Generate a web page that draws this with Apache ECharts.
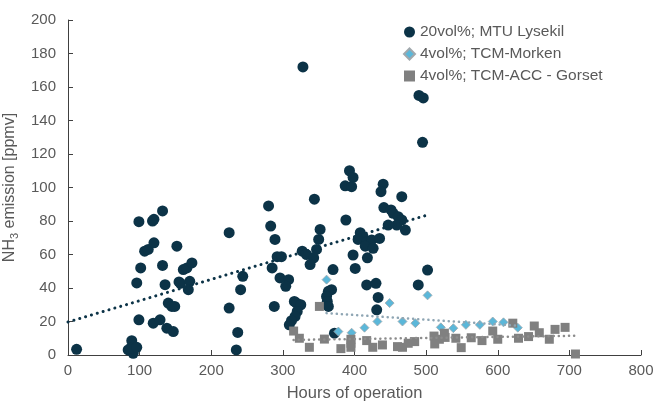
<!DOCTYPE html>
<html>
<head>
<meta charset="utf-8">
<script src="https://cdn.jsdelivr.net/npm/echarts@6/dist/echarts.min.js"></script>
<style>
html,body{margin:0;padding:0;background:#fff;}
#chart{width:653px;height:401px;}
</style>
</head>
<body>
<div id="chart"></div>
<script>
// NH3 emission vs. hours of operation
var seriesNames = ['20vol%; MTU Lysekil', '4vol%; TCM-Morken', '4vol%; TCM-ACC - Gorset'];

// [hours, ppmv]
var mtuPoints = [
	[12,3.4],[84,3],[89,8.5],[91,1],[87,4],[96,4.6],[99,79.6],[118,80],[120,81],[132,86],
	[107,62],[112,63],[120,67],[152,65],[101.5,52],[96,43],[132,53.5],[135.5,42],[155,43.6],[157,42.8],
	[161,51],[166,52],[173,55],[170,44],[168,39],[140,31],[145,29],[149,29],[99,21],[119,19],
	[128.5,21],[138,16],[147,14],
	[225,73],[244,47],[241,39],[225,28],[237,13.5],[235,3],[280,89],[283,77],[289,69],[292,58.7],
	[298,58.7],[285,52],[296,46],[308,45],[304,41],[288,29],[328,172],[344,93],[352,75],[350,69],
	[347,63],[327,62],[333,60],[343,58],[338,54],[370,51],[316,32],[319,31],[325,30],[320,26],
	[317,23],[312,20.5],[309,18],[368,39],[363.5,38],[361,35],[362,32],[363.5,29],[372,13],
	[393,110],[398,106],[387,101],[396,100.5],[440,102],[437,97.5],[466,94.5],[388,80.6],[441,88],[451,86.6],
	[454,84.6],[461,82.6],[466,80.6],[459,77.6],[447,77.6],[471,74.6],[408,73],[412,70.6],[405,69],[417,67.6],
	[424,68.7],[435,69.6],[415,65],[426,63.7],[398,59.7],[418,58],[401,51.7],[417,41.8],[430,42.8],[433,34.4],
	[431,27],[489,41.8],[502,50.7],[490,155],[496,153.5],[495,127]
];
var morkenPoints = [
	[361,45],[377.5,14],[396,13.3],[414,16.3],[432,20],[449,31],[467,20],[485,19],[502,35.6],[520.5,16.5],
	[538,16],[555.5,18],[575,18],[593,20],[608,19.5],[628,16.3]
];
var gorsetPoints = [
	[315,14.3],[323,10],[337,4.6],[351,29],[358,9.5],[381,3.8],[395,9.4],[395,7],[395,4.6],[417,8.6],
	[425.5,4.6],[439,6],[460,5],[467,4.6],[475,7],[484,8],[511,11.3],[512,6.6],[518.5,9.4],[525.5,13],
	[526.5,10.5],[541.5,10],[549,4.4],[563,10.3],[578,8.6],[593,14.3],[600,9.4],[621,19],[629,10],[643,11],
	[651,17.3],[658,13.3],[672,9.4],[680,15.3],[694,16.5],[708.5,0.6]
];
// trend line end points
var mtuTrend = [[0,19.7],[502,83.6]];
var morkenTrend = [[361,25],[628,17.5]];
var gorsetTrend = [[315,9],[708,11.5]];

var xTicks = {min:0, max:800, interval:100};
var yTicks = {min:0, max:200, interval:20};

var labelFont = {color:'#595959', fontSize:15, fontFamily:'Liberation Sans, Arial'};

var myChart = echarts.init(document.getElementById('chart'));

function trendSeries(data, color, width){
	return {
		type:'line',
		data:data,
		symbol:'none',
		silent:true,
		z:3,
		lineStyle:{color:color, width:width, type:[0.1, width*2], cap:'round'}
	};
}

var option = {
	animation:false,
	grid:{left:68, right:12, top:20, bottom:46, outerBoundsMode:'none', containLabel:false},
	legend:{
		orient:'vertical',
		left:398,
		top:19,
		itemGap:6,
		itemWidth:11,
		itemHeight:11,
		textStyle:{color:'#595959', fontSize:15.5, fontFamily:'Liberation Sans, Arial'},
		data:[
			{name:seriesNames[0], icon:'circle'},
			{name:seriesNames[1], icon:'diamond'},
			{name:seriesNames[2], icon:'rect'}
		]
	},
	xAxis:{
		type:'value',
		min:xTicks.min, max:xTicks.max, interval:xTicks.interval,
		name:'Hours of operation',
		nameLocation:'middle',
		nameGap:30,
		nameTextStyle:{color:'#595959', fontSize:16.5, fontFamily:'Liberation Sans, Arial'},
		axisLine:{show:true, lineStyle:{color:'#404040', width:1}},
		axisTick:{show:true, inside:true, length:5, lineStyle:{color:'#404040'}},
		axisLabel:Object.assign({margin:8}, labelFont),
		splitLine:{show:false}
	},
	yAxis:{
		type:'value',
		min:yTicks.min, max:yTicks.max, interval:yTicks.interval,
		name:'{a|NH}{s|3}{a| emission [ppmv]}',
		nameLocation:'middle',
		nameGap:42,
		nameTextStyle:{
			rich:{
				a:{color:'#595959', fontSize:16, fontFamily:'Liberation Sans, Arial', lineHeight:18},
				s:{color:'#595959', fontSize:11, fontFamily:'Liberation Sans, Arial', lineHeight:18, padding:[9,0,0,0]}
			}
		},
		axisLine:{show:true, lineStyle:{color:'#404040', width:1}},
		axisTick:{show:true, inside:true, length:5, lineStyle:{color:'#404040'}},
		axisLabel:Object.assign({margin:12}, labelFont),
		splitLine:{show:false}
	},
	series:[
		{
			name:seriesNames[0],
			type:'scatter',
			symbol:'circle',
			symbolSize:11,
			itemStyle:{color:'#0c3347', opacity:1},
			data:mtuPoints,
			z:2
		},
		{
			name:seriesNames[1],
			type:'scatter',
			symbol:'diamond',
			symbolSize:9,
			itemStyle:{color:'#5bb7d9', borderColor:'#a0a8ad', borderWidth:0.8, opacity:1},
			data:morkenPoints,
			z:2
		},
		{
			name:seriesNames[2],
			type:'scatter',
			symbol:'rect',
			symbolSize:9,
			itemStyle:{color:'#808080', opacity:1},
			data:gorsetPoints,
			z:2
		},
		trendSeries(mtuTrend, '#0c3347', 3),
		trendSeries(morkenTrend, '#8fa6b4', 2.5),
		trendSeries(gorsetTrend, '#8c8c8c', 2.5)
	]
};
myChart.setOption(option);
</script>
</body>
</html>
